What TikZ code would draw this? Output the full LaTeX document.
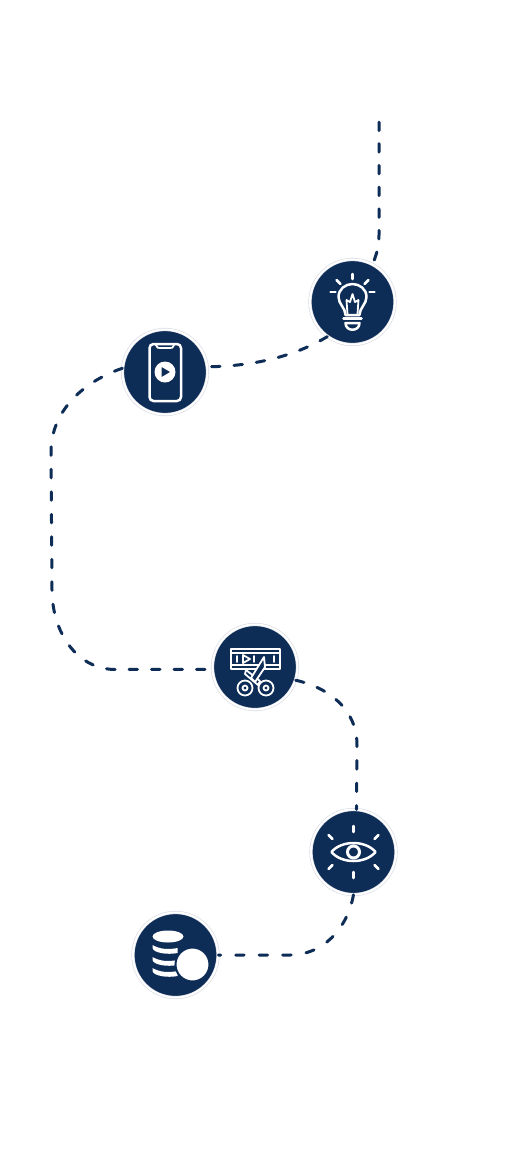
\documentclass[tikz,border=0pt]{standalone}
\usepackage{tikz}
\definecolor{navy}{HTML}{0D2C56}
\definecolor{ringgray}{HTML}{D5D9E2}

\begin{document}
\begin{tikzpicture}[
        x=0.02cm, y=-0.02cm,
        stage/.style={circle, draw=ringgray, line width=0.012cm, double=white, double distance=0.04cm, fill=navy, inner sep=0pt, minimum size=1.7cm},
        trail/.style={navy, line width=0.06cm, line cap=round, dash pattern=on 0.17cm off 0.28cm},
        glyph/.style={white, line width=0.05cm, line cap=round, line join=round},
        thin glyph/.style={white, line width=0.036cm, line cap=round, line join=round}
      ]
      \useasboundingbox (0,0) rectangle (520,1157);
      \fill[white] (0,0) rectangle (520,1157);

      \coordinate (start) at (379,122);
      \node[stage] (bulb) at (352.5,302) {};
      \node[stage] (phone) at (165,372) {};
      \node[stage] (film) at (255,667) {};
      \node[stage] (eye) at (353.5,852) {};
      \node[stage] (coins) at (175.5,955) {};

      \draw[trail, dash pattern=on 0.17cm off 0.264cm] (start) -- (379,235) .. controls (379,244) and (378,251) .. (bulb.62);
      \draw[trail] (bulb.234) .. controls (300,353) and (262,366) .. (phone.7);
      \draw[trail] (phone.175) .. controls (82,382) and (51,412) .. (51,452) -- (52,590) .. controls (52,630) and (75,669) .. (115,669.5) -- (film.183);
      \draw[trail] (film.-18) .. controls (330,688) and (357,710) .. (357,745) -- (eye.86);
      \draw[trail, dash pattern=on 0.17cm off 0.3cm] (eye.-90) .. controls (347,930) and (322,955) .. (290,955) -- (coins.east);

      \begin{scope}[shift={(bulb.center)}]
        \foreach \xa/\ya/\xb/\yb in {0/-28/0/-23, -16/-22/-12/-18, 16/-22/12/-18, -22/-10/-17/-10, 22/-10/17/-10}
          \draw[glyph] (\xa,\ya) -- (\xb,\yb);
        \draw[glyph] (-7,13) .. controls (-7,6) and (-14,2) .. (-14,-5) .. controls (-14,-13) and (-7,-18) .. (0,-18) .. controls (7,-18) and (14,-13) .. (14,-5) .. controls (14,2) and (7,6) .. (7,13) -- cycle;
        \draw[thin glyph] (-5,12) -- (-6,-2) -- (-2.5,0) -- (0,-8) -- (2.5,0) -- (6,-2) -- (5,12);
        \draw[glyph] (-9,16.5) -- (9,16.5);
        \draw[glyph] (-7,21) -- (7,21) .. controls (7,30) and (-7,30) .. (-7,21) -- cycle;
      \end{scope}

      \begin{scope}[shift={(phone.center)}]
        \draw[glyph, rounded corners=0.08cm] (-15.5,-28) rectangle (16,29);
        \draw[thin glyph] (-9,-27) .. controls (-8,-24) and (-7,-24) .. (-5,-24) -- (5,-24) .. controls (7,-24) and (8,-24) .. (9,-27);
        \fill[white] (0,0) circle (10.5);
        \fill[navy, rounded corners=0.01cm] (-3.5,-5) -- (-3.5,5) -- (5,0) -- cycle;
      \end{scope}

      \begin{scope}[shift={(film.center)}]
        \draw[thin glyph] (-24,-18) rectangle (25,2);
        \draw[thin glyph] (-24,-14) -- (25,-14);
        \draw[thin glyph] (-24,-2) -- (25,-2);
        \foreach \xa in {-18, -1, 19}
          \draw[thin glyph] (\xa,-11) -- (\xa,-5);
        \draw[thin glyph] (-12,-12) -- (-12,-4) -- (-5,-8) -- cycle;
        \draw[thin glyph, fill=navy] (-9,3) -- (5,14) -- (3,18) -- (-10,7) -- cycle;
        \draw[thin glyph, fill=navy] (9,-10) -- (10,0) -- (0,15) -- (-4,11) -- cycle;
        \draw[thin glyph, fill=navy] (-10,21) circle (7.5);
        \draw[thin glyph, fill=navy] (11,21) circle (7.5);
        \draw[thin glyph] (-10,21) circle (2.5);
        \draw[thin glyph] (11,21) circle (2.5);
      \end{scope}

      \begin{scope}[shift={(eye.center)}]
        \foreach \xa/\ya/\xb/\yb in {0/-26/0/-20, 0/26/0/20, -25/-17/-21/-13, 25/-17/21/-13, -25/17/-21/13, 25/17/21/13}
          \draw[glyph] (\xa,\ya) -- (\xb,\yb);
        \draw[glyph] (-22,0) .. controls (-12,-12) and (12,-12) .. (22,0) .. controls (12,12) and (-12,12) .. (-22,0) -- cycle;
        \draw[white, line width=0.06cm] (0,0) circle (6);
      \end{scope}

      \begin{scope}[shift={(coins.center)}]
        \fill[white] (-7.5,-18.5) ellipse (15.5 and 6);
        \foreach \ya in {-10,2,13}
          \fill[white] (-23,\ya) .. controls (-16,\ya+4) and (-8,\ya+5) .. (2,\ya+3) -- (2,\ya+8) .. controls (-8,\ya+10) and (-22,\ya+8) .. (-23,\ya+3) -- cycle;
        \draw[fill=white, draw=navy, line width=0.04cm] (17,9.5) circle (17);
      \end{scope}
    \end{tikzpicture}
\end{document}
